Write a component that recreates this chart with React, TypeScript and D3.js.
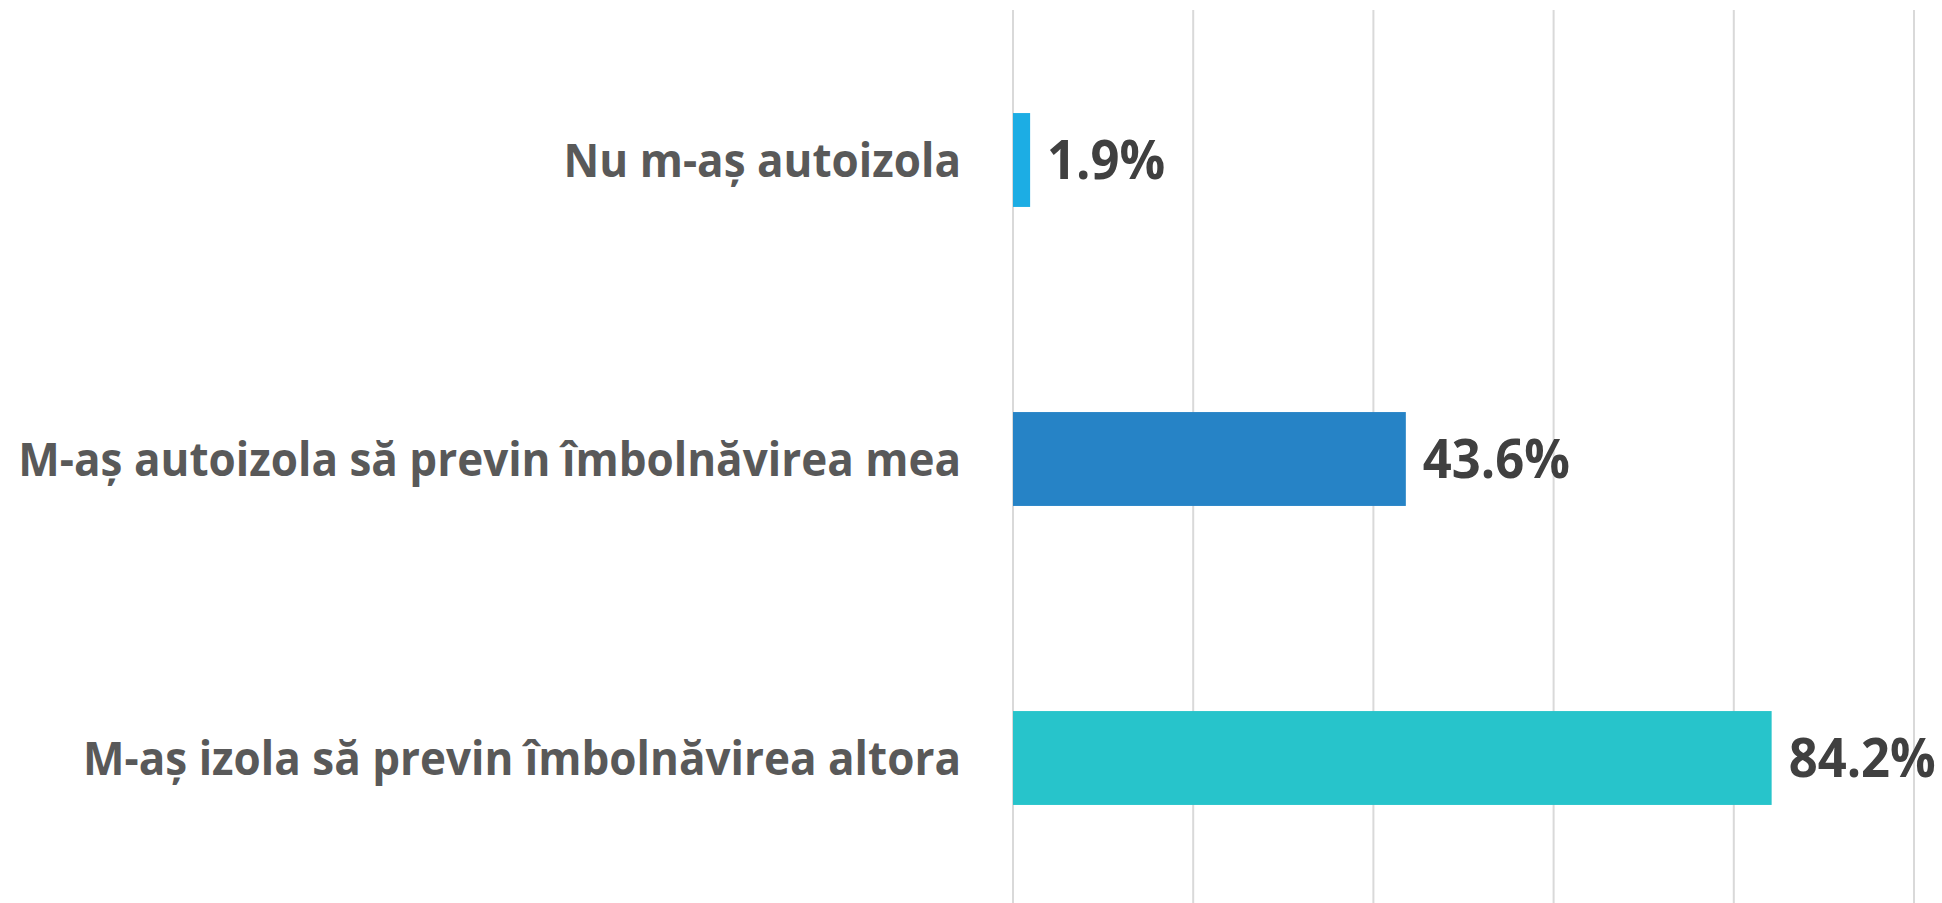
import React from "react";
import * as d3 from "d3";

const categories = [
  "Nu m-aș autoizola",
  "M-aș autoizola să previn îmbolnăvirea mea",
  "M-aș izola să previn îmbolnăvirea altora",
];
const values = [1.9, 43.6, 84.2];
const colors = ["#1CADE4", "#2683C6", "#27C4CB"];
const xTicks = [0, 20, 40, 60, 80, 100];

const W = 1942;
const H = 903;
const plotLeft = 1013;
const plotRight = 1914;
const plotTop = 10;
const plotBottom = 907.5;

export default function App() {
  const x = d3.scaleLinear().domain([0, 100]).range([plotLeft, plotRight]);
  const y = d3
    .scaleBand<string>()
    .domain(categories)
    .range([plotTop + 0.5, plotBottom])
    .paddingInner(0.686)
    .paddingOuter(0.343);
  const font = "'Open Sans', Lato, sans-serif";
  const sx = 0.957;
  return (
    <svg
      width={W}
      height={H}
      style={{ position: "absolute", left: 0, top: 0, display: "block", background: "#fff" }}
    >
      {xTicks.map((t) => (
        <line
          key={t}
          x1={x(t)}
          x2={x(t)}
          y1={plotTop}
          y2={H}
          stroke="#D9D9D9"
          strokeWidth={2}
        />
      ))}
      {categories.map((c, i) => {
        const yc = (y(c) as number) + y.bandwidth() / 2;
        return (
          <g key={c}>
            <rect
              x={x(0)}
              y={y(c)}
              width={x(values[i]) - x(0)}
              height={y.bandwidth()}
              fill={colors[i]}
            />
            <text
              transform={`translate(${x(0) - 52},${yc}) scale(${sx},1)`}
              textAnchor="end"
              dy="0.36em"
              fontFamily={font}
              fontWeight={700}
              fontSize={46}
              fill="#595959"
            >
              {c}
            </text>
            <text
              transform={`translate(${x(values[i]) + 17},${yc}) scale(${sx},1)`}
              dy="0.36em"
              fontFamily={font}
              fontWeight={700}
              fontSize={53}
              fill="#404040"
            >
              {values[i].toFixed(1) + "%"}
            </text>
          </g>
        );
      })}
    </svg>
  );
}
